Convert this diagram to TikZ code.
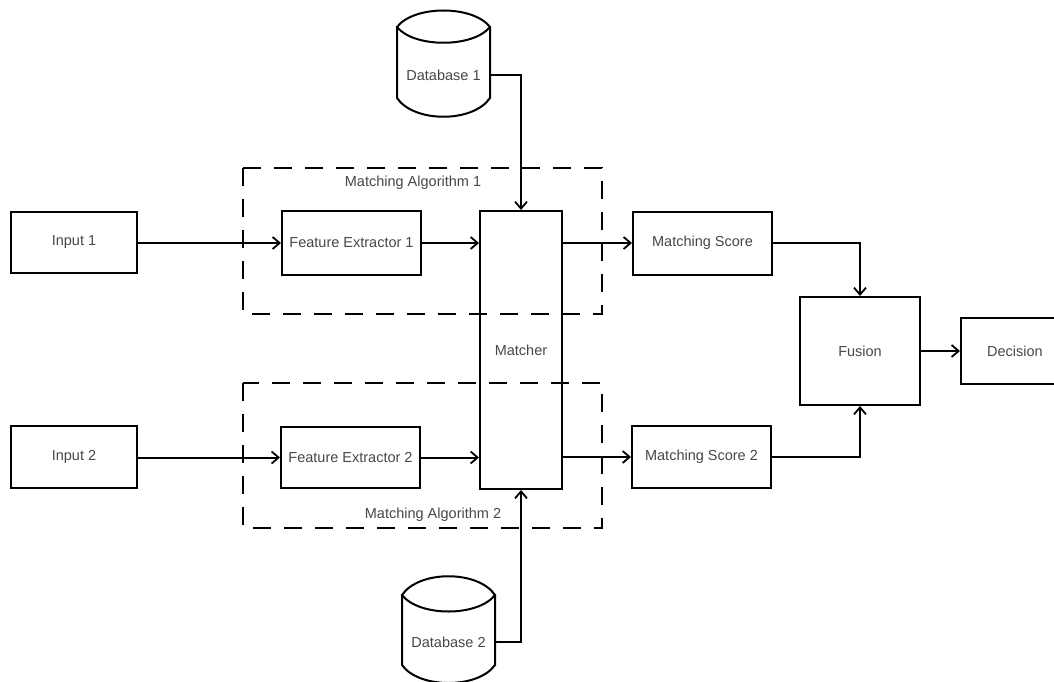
\documentclass[tikz,border=0pt]{standalone}
\usepackage{fontspec}
\setmainfont{Liberation Sans}
\usetikzlibrary{arrows.meta}
\begin{document}
\begin{tikzpicture}[x=1pt,y=-1pt,
  box/.style={draw, line width=2pt, text=black!72, inner sep=0pt, font=\fontsize{14.5}{17}\selectfont},
  lbl/.style={text=black!72, inner sep=0pt, font=\fontsize{14.5}{17}\selectfont},
  conn/.style={line width=2pt, -{Straight Barb[length=7pt,width=12pt,line width=1.8pt]}},
  dashbox/.style={line width=2pt, dash pattern=on 18pt off 13pt},
  cyl/.style={line width=2pt, line join=miter}]
\useasboundingbox (0,0) rectangle (1054,682);

% dashed frames
\draw[dashbox] (243,168) rectangle (602,314);
\draw[dashbox] (243,383) rectangle (602,528);
\node[lbl] (ma1) at (413,183) {Matching Algorithm 1};
\node[lbl] (ma2) at (433,515) {Matching Algorithm 2};

% boxes
\node[box, minimum width=126pt, minimum height=61pt] (in1) at (74,242) {Input 1};
\node[box, minimum width=126pt, minimum height=62pt] (in2) at (74,457) {Input 2};
\node[box, minimum width=139pt, minimum height=64pt] (fe1) at (351.5,243) {Feature Extractor 1};
\node[box, minimum width=139pt, minimum height=61pt] (fe2) at (350.5,457.5) {Feature Extractor 2};
\node[box, minimum width=82pt, minimum height=278pt] (m) at (521,350) {Matcher};
\node[box, minimum width=139pt, minimum height=63pt] (ms1) at (702.5,243) {Matching Score};
\node[box, minimum width=139pt, minimum height=62pt] (ms2) at (701.5,457) {Matching Score 2};
\node[box, minimum width=120pt, minimum height=108pt] (fu) at (860,351) {Fusion};
\node[box, minimum width=108pt, minimum height=66pt] (de) at (1015,351) {Decision};

% databases
\draw[cyl] (397,27) .. controls (414,5) and (473,5) .. (490,27)
  .. controls (473,48) and (414,48) .. (397,27) -- cycle;
\draw[cyl] (397,27) -- (397,98) .. controls (414,123) and (473,123) .. (490,98) -- (490,27);
\node[lbl, minimum width=93pt] (db1) at (443.5,75) {Database 1};

\draw[cyl] (402,595) .. controls (419,570) and (478,570) .. (495,595)
  .. controls (478,617) and (419,617) .. (402,595) -- cycle;
\draw[cyl] (402,595) -- (402,665) .. controls (419,689) and (478,689) .. (495,665) -- (495,595);
\node[lbl, minimum width=93pt] (db2) at (448.5,642) {Database 2};

% connectors
\draw[conn] (in1.east |- fe1.west) -- (fe1.west);
\draw[conn] (in2.east |- fe2.west) -- (fe2.west);
\draw[conn] (fe1.east) -- (fe1.east -| m.west);
\draw[conn] (fe2.east) -- (fe2.east -| m.west);
\draw[conn] (m.east |- ms1.west) -- (ms1.west);
\draw[conn] (m.east |- ms2.west) -- (ms2.west);
\draw[conn] (db1.east) -| (m.north);
\draw[conn] (db2.east) -| (m.south);
\draw[conn] (ms1.east) -| (fu.north);
\draw[conn] (ms2.east) -| (fu.south);
\draw[conn] (fu.east) -- (de.west);
\end{tikzpicture}
\end{document}
